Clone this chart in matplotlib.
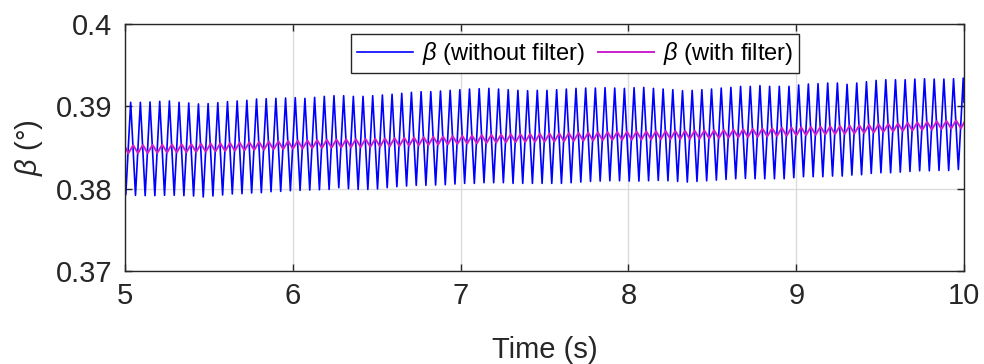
#!/usr/bin/env python3
"""
Beta angle with and without filter, 5-10 s window.
"""

import numpy as np
import matplotlib
matplotlib.use("Agg")
import matplotlib.pyplot as plt

# --- data (one value per oscillation cycle) ---
CYCLE = 0.05769          # oscillation period (s)
BLUE_TROUGH_T0 = 5.005   # time of first trough of raw signal
BLUE_PEAK_T0 = 5.034     # time of first peak of raw signal
MAG_TROUGH_T0 = 5.020
MAG_PEAK_T0 = 5.049

blue_start = 0.3820      # value at t = 5
blue_end = 0.3905        # value at t = 10
mag_start = 0.3851

blue_peaks = [
    0.39049, 0.39049, 0.39053, 0.39061, 0.39065, 0.39049, 0.39041, 0.39029, 0.39033, 0.39045,
    0.39057, 0.39065, 0.39073, 0.39089, 0.39093, 0.39097, 0.39101, 0.39105, 0.39097, 0.39109,
    0.39121, 0.39129,
    0.39129, 0.39121, 0.39121, 0.39129, 0.39138, 0.39146, 0.39158, 0.39170, 0.39178, 0.39178,
    0.39186, 0.39194, 0.39202, 0.39210, 0.39214, 0.39218, 0.39210, 0.39202, 0.39194, 0.39190,
    0.39194,
    0.39194, 0.39202, 0.39210, 0.39218, 0.39222, 0.39222, 0.39226, 0.39222, 0.39218, 0.39226,
    0.39230, 0.39218, 0.39210, 0.39202, 0.39190, 0.39194, 0.39202, 0.39210, 0.39222, 0.39230,
    0.39242, 0.39242,
    0.39251, 0.39243, 0.39243, 0.39243, 0.39259, 0.39271, 0.39275, 0.39283, 0.39283, 0.39267,
    0.39283, 0.39299, 0.39315, 0.39323, 0.39323, 0.39323, 0.39331, 0.39335, 0.39331, 0.39331,
    0.39335, 0.39343,
]
blue_troughs = [
    0.37927, 0.37919, 0.37915, 0.37915, 0.37919, 0.37919, 0.37915, 0.37911, 0.37899, 0.37911,
    0.37923, 0.37935, 0.37939, 0.37947, 0.37951, 0.37963, 0.37967, 0.37975, 0.37979, 0.37983,
    0.37987, 0.37991,
    0.38012, 0.38000, 0.37991, 0.37991, 0.37996, 0.38012, 0.38024, 0.38032, 0.38040, 0.38040,
    0.38044, 0.38048, 0.38056, 0.38064, 0.38064, 0.38072, 0.38072, 0.38072, 0.38064, 0.38064,
    0.38064, 0.38064,
    0.38064, 0.38064, 0.38072, 0.38080, 0.38088, 0.38092, 0.38096, 0.38096, 0.38092, 0.38092,
    0.38096, 0.38100, 0.38096, 0.38088, 0.38080, 0.38088, 0.38096, 0.38104, 0.38112, 0.38120,
    0.38124,
    0.38120, 0.38120, 0.38120, 0.38120, 0.38133, 0.38145, 0.38145, 0.38145, 0.38153, 0.38153,
    0.38165, 0.38169, 0.38185, 0.38193, 0.38193, 0.38201, 0.38209, 0.38217, 0.38217, 0.38221,
    0.38221, 0.38233,
]
mag_peaks = [
    0.38528, 0.38530, 0.38532, 0.38535, 0.38538, 0.38540, 0.38542, 0.38545, 0.38548, 0.38552,
    0.38556, 0.38560, 0.38564, 0.38568, 0.38572, 0.38576, 0.38580, 0.38583, 0.38586, 0.38590,
    0.38594, 0.38598, 0.38600, 0.38602, 0.38604, 0.38606, 0.38610, 0.38614, 0.38618, 0.38622,
    0.38626, 0.38630, 0.38634, 0.38638, 0.38642, 0.38646, 0.38650, 0.38654, 0.38658, 0.38662,
    0.38664, 0.38666, 0.38668, 0.38670, 0.38672, 0.38675, 0.38678, 0.38681, 0.38684, 0.38687,
    0.38690, 0.38692, 0.38694, 0.38696, 0.38698, 0.38700, 0.38701, 0.38702, 0.38704, 0.38707,
    0.38710, 0.38714, 0.38718, 0.38722, 0.38726, 0.38730, 0.38734, 0.38738, 0.38742, 0.38746,
    0.38750, 0.38754, 0.38758, 0.38762, 0.38766, 0.38770, 0.38776, 0.38782, 0.38788, 0.38794,
    0.38800, 0.38806, 0.38812, 0.38818, 0.38824, 0.38830, 0.38835,
]
mag_troughs = [
    0.38428, 0.38430, 0.38432, 0.38435, 0.38438, 0.38440, 0.38442, 0.38445, 0.38448, 0.38452,
    0.38456, 0.38460, 0.38464, 0.38468, 0.38472, 0.38476, 0.38480, 0.38483, 0.38486, 0.38490,
    0.38494, 0.38498, 0.38500, 0.38502, 0.38504, 0.38506, 0.38510, 0.38514, 0.38518, 0.38522,
    0.38526, 0.38530, 0.38534, 0.38538, 0.38542, 0.38546, 0.38550, 0.38554, 0.38558, 0.38562,
    0.38564, 0.38566, 0.38568, 0.38570, 0.38572, 0.38575, 0.38578, 0.38581, 0.38584, 0.38587,
    0.38590, 0.38592, 0.38594, 0.38596, 0.38598, 0.38600, 0.38601, 0.38602, 0.38604, 0.38607,
    0.38610, 0.38614, 0.38618, 0.38622, 0.38626, 0.38630, 0.38634, 0.38638, 0.38642, 0.38646,
    0.38650, 0.38654, 0.38658, 0.38662, 0.38666, 0.38670, 0.38676, 0.38682, 0.38688, 0.38694,
    0.38700, 0.38706, 0.38712, 0.38718, 0.38724, 0.38730, 0.38735,
]

x_ticks = [5, 6, 7, 8, 9, 10]
y_ticks = [0.37, 0.38, 0.39, 0.40]
y_tick_labels = ["0.37", "0.38", "0.39", "0.4"]


def zigzag(t_lo, t_hi, lows, highs, start=None, end=None):
    """Interleave trough/peak samples into one polyline."""
    k = np.arange(len(lows))
    t = np.empty(2 * len(lows))
    v = np.empty(2 * len(lows))
    t[0::2] = t_lo + k * CYCLE
    t[1::2] = t_hi + k * CYCLE
    v[0::2] = lows
    v[1::2] = highs
    if start is not None:
        t = np.insert(t, 0, 5.0)
        v = np.insert(v, 0, start)
    if end is not None:
        t = np.append(t, 10.0)
        v = np.append(v, end)
    return t, v


plt.rcParams['font.family'] = ['Liberation Sans', 'DejaVu Sans']
plt.rcParams['mathtext.fontset'] = 'custom'
plt.rcParams['mathtext.it'] = 'Liberation Sans:italic'
plt.rcParams['mathtext.rm'] = 'Liberation Sans'

TXT = '#262626'

fig = plt.figure(figsize=(9.84, 3.64), dpi=100)
ax = fig.add_axes([0.127, 0.2555, 0.8527, 0.6786])

tb, vb = zigzag(BLUE_TROUGH_T0, BLUE_PEAK_T0, blue_troughs, blue_peaks, blue_start, blue_end)
tm, vm = zigzag(MAG_TROUGH_T0, MAG_PEAK_T0, mag_troughs, mag_peaks, mag_start)

ax.plot(tb, vb, color='#0000ff', linewidth=1.2, label=r'$\beta$ (without filter)')
ax.plot(tm, vm, color='#cc1fcc', linewidth=1.4, label=r'$\beta$ (with filter)')

ax.set_xlim(5, 10)
ax.set_ylim(0.37, 0.40)
ax.set_xticks(x_ticks)
ax.set_yticks(y_ticks)
ax.set_yticklabels(y_tick_labels)
ax.grid(True, color='#dcdcdc', linewidth=1.0)
ax.set_axisbelow(True)

for s in ax.spines.values():
    s.set_color(TXT)
    s.set_linewidth(1.0)
ax.tick_params(direction='in', top=True, right=True, length=5, width=1.0,
               colors=TXT, labelsize=21)
ax.tick_params(axis='y', pad=9)
ax.tick_params(axis='x', pad=8)

ax.set_xlabel('Time (s)', fontsize=21, color=TXT, labelpad=19)
ax.set_ylabel(r'$\beta$ (°)', fontsize=21, color=TXT, labelpad=8)

leg = ax.legend(loc='upper center', bbox_to_anchor=(0.536, 0.958), ncol=2,
                fontsize=17, frameon=True, fancybox=False, framealpha=1,
                edgecolor=TXT, handlelength=2.4, handletextpad=0.35,
                columnspacing=0.55, borderpad=0.25, borderaxespad=0)
leg.get_frame().set_linewidth(1.0)

fig.savefig('out.png', dpi=100)
